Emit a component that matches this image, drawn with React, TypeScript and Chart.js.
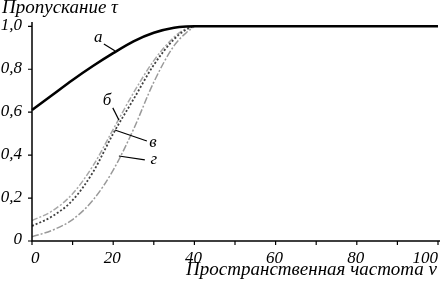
import React, { useEffect, useRef } from "react";
import { Chart, registerables } from "chart.js";

Chart.register(...registerables);

const nu = [0, 5, 10, 15, 20, 25, 30, 35, 38, 40, 50, 60, 70, 80, 90, 100];
const curveA = [0.61, 0.68, 0.75, 0.815, 0.875, 0.93, 0.97, 0.993, 0.999, 1, 1, 1, 1, 1, 1, 1];
const curveB = [0.095, 0.14, 0.22, 0.35, 0.52, 0.69, 0.84, 0.95, 0.99, 1];
const curveV = [0.07, 0.115, 0.19, 0.32, 0.5, 0.66, 0.82, 0.94, 0.985, 1];
const curveG = [0.02, 0.05, 0.1, 0.19, 0.33, 0.52, 0.74, 0.91, 0.97, 1];

const yTicks = [0, 0.2, 0.4, 0.6, 0.8, 1.0];
const xMinorTicks = [0, 10, 20, 30, 40, 50, 60, 70, 80, 90, 100];
const xLabelTicks = [0, 20, 40, 60, 80, 100];

const yTitle = "Пропускание τ";
const xTitle = "Пространственная частота ν";

const curveLabels = [
  { text: "а", x: 16.3, y: 0.946, lx1: 17.7, ly1: 0.918, lx2: 20.4, ly2: 0.886 },
  { text: "б", x: 18.5, y: 0.653, lx1: 19.9, ly1: 0.62, lx2: 21.4, ly2: 0.564 },
  { text: "в", x: 29.8, y: 0.46, lx1: 20.4, ly1: 0.517, lx2: 28.3, ly2: 0.466 },
  { text: "г", x: 30.0, y: 0.378, lx1: 21.4, ly1: 0.396, lx2: 27.8, ly2: 0.378 },
];

const FONT = "italic 17px 'Liberation Serif', 'Times New Roman', serif";
const TITLE_FONT = "italic 19px 'Liberation Serif', 'Times New Roman', serif";

const pts = (ys: number[]) => ys.map((y, i) => ({ x: nu[i], y }));

const axesPlugin = {
  id: "customAxes",
  afterDraw(chart: any) {
    const ctx = chart.ctx;
    const xs = chart.scales.x;
    const ys = chart.scales.y;
    const area = chart.chartArea;
    ctx.save();
    ctx.strokeStyle = "#000";
    ctx.lineWidth = 1.5;
    ctx.beginPath();
    ctx.moveTo(area.left, area.top);
    ctx.lineTo(area.left, area.bottom);
    ctx.lineTo(chart.width, area.bottom);
    ctx.stroke();

    ctx.lineWidth = 1.2;
    ctx.beginPath();
    for (const v of xMinorTicks) {
      const px = xs.getPixelForValue(v);
      ctx.moveTo(px, area.bottom);
      ctx.lineTo(px, area.bottom + 4);
    }
    for (const v of yTicks) {
      const py = ys.getPixelForValue(v);
      ctx.moveTo(area.left, py);
      ctx.lineTo(area.left - 4, py);
    }
    ctx.stroke();

    ctx.fillStyle = "#000";
    ctx.font = FONT;
    ctx.textAlign = "right";
    ctx.textBaseline = "middle";
    for (const v of yTicks) {
      const py = ys.getPixelForValue(v);
      const t = v === 0 ? "0" : v.toFixed(1).replace(".", ",");
      ctx.fillText(t, area.left - 10, py - 1);
    }
    ctx.textAlign = "left";
    ctx.textBaseline = "alphabetic";
    for (const v of xLabelTicks) {
      const px = xs.getPixelForValue(v);
      const t = String(v);
      const w = ctx.measureText(t).width;
      let left = px - 1 - w / 2;
      if (left < area.left - 1) left = area.left - 1;
      if (left + w > area.right) left = area.right - w;
      ctx.fillText(t, left, area.bottom + 22);
    }
    ctx.font = TITLE_FONT;
    ctx.textAlign = "right";
    ctx.fillText(xTitle, 437, area.bottom + 34);
    ctx.textAlign = "left";
    ctx.fillText(yTitle, 2, 13);

    ctx.font = FONT;
    ctx.textAlign = "center";
    ctx.textBaseline = "middle";
    ctx.lineWidth = 1.2;
    for (const l of curveLabels) {
      ctx.fillText(l.text, xs.getPixelForValue(l.x), ys.getPixelForValue(l.y));
      ctx.beginPath();
      ctx.moveTo(xs.getPixelForValue(l.lx1), ys.getPixelForValue(l.ly1));
      ctx.lineTo(xs.getPixelForValue(l.lx2), ys.getPixelForValue(l.ly2));
      ctx.stroke();
    }
    ctx.restore();
  },
};

export default function App() {
  const ref = useRef<HTMLCanvasElement | null>(null);
  useEffect(() => {
    document.body.style.margin = "0";
    const canvas = ref.current!;
    const chart = new Chart(canvas, {
      type: "line",
      data: {
        datasets: [
          {
            label: "а",
            data: pts(curveA),
            borderColor: "#000",
            borderWidth: 2.6,
            pointRadius: 0,
            cubicInterpolationMode: "monotone",
            clip: false as any,
            order: 0,
          },
          {
            label: "б",
            data: pts(curveB),
            borderColor: "#a8a8a8",
            borderWidth: 1.5,
            borderDash: [6, 2, 2, 2],
            pointRadius: 0,
            cubicInterpolationMode: "monotone",
            order: 3,
          },
          {
            label: "в",
            data: pts(curveV),
            borderColor: "#404040",
            borderWidth: 1.8,
            borderDash: [2, 2],
            pointRadius: 0,
            cubicInterpolationMode: "monotone",
            order: 2,
          },
          {
            label: "г",
            data: pts(curveG),
            borderColor: "#9a9a9a",
            borderWidth: 1.5,
            borderDash: [7, 2, 2, 2],
            pointRadius: 0,
            cubicInterpolationMode: "monotone",
            order: 1,
          },
        ],
      },
      options: {
        responsive: false,
        animation: false,
        layout: { padding: { left: 32, right: 2, top: 22, bottom: 40 } },
        plugins: { legend: { display: false }, tooltip: { enabled: false } },
        scales: {
          x: { type: "linear", min: 0, max: 100, display: false },
          y: { type: "linear", min: 0, max: 1.02, display: false },
        },
      },
      plugins: [axesPlugin],
    });
    return () => chart.destroy();
  }, []);
  return <canvas ref={ref} width={440} height={281} style={{ display: "block" }} />;
}
